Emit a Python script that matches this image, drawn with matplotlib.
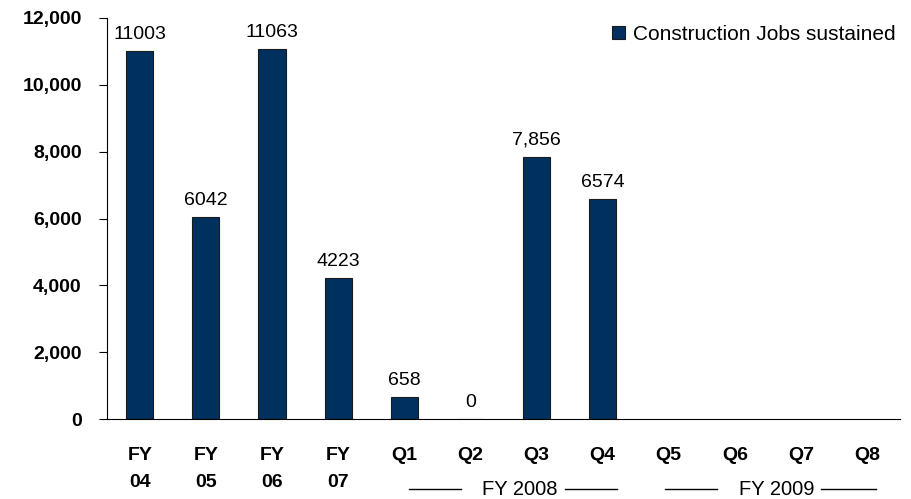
import numpy as np
import matplotlib
matplotlib.use("Agg")
from matplotlib import pyplot as plt

plt.rcParams['font.family'] = ['Liberation Sans', 'DejaVu Sans']

cats = ['FY\n04', 'FY\n05', 'FY\n06', 'FY\n07', 'Q1', 'Q2', 'Q3', 'Q4', 'Q5', 'Q6', 'Q7', 'Q8']
jobs = [11003, 6042, 11063, 4223, 658, 0, 7856, 6574]
labels = ['11003', '6042', '11063', '4223', '658', '0', '7,856', '6574']
groups = ['FY 2008', 'FY 2009']

fig = plt.figure(figsize=(9.12, 4.99), dpi=100)
ax = fig.add_axes([0.117, 0.160, 0.870, 0.804])

x = np.arange(len(cats))
ax.bar(x[:len(jobs)], jobs, width=0.41, color='#00305e', edgecolor='#1a1a1a',
       linewidth=0.8, label='Construction Jobs sustained', zorder=2)

for xi, v, s in zip(x, jobs, labels):
    ax.annotate(s, (xi, v), xytext=(0, 6), textcoords='offset points',
                ha='center', va='bottom', fontsize=14)

ax.set_xlim(-0.5, len(cats) - 0.5)
ax.set_ylim(0, 12000)
ax.set_yticks(np.arange(0, 12001, 2000))
ax.set_yticklabels([f'{t:,}' for t in range(0, 12001, 2000)], fontsize=14, fontweight='bold')
ax.set_xticks(x)
ax.set_xticklabels(cats, fontsize=14, fontweight='bold', linespacing=1.75)
ax.tick_params(axis='x', length=0, pad=20)
ax.tick_params(axis='y', direction='out', length=6, pad=12)

for s in ['top', 'right']:
    ax.spines[s].set_visible(False)

# year group labels under the quarters (text centre, left line, right line)
grp_pos = [(5.74, (4.07, 4.86), (6.43, 7.22)),
           (9.64, (7.95, 8.73), (10.31, 11.14))]
tr = ax.get_xaxis_transform()
y = -0.175
for g, (cx, l1, l2) in zip(groups, grp_pos):
    ax.text(cx, y, g, ha='center', va='center', fontsize=14.5, transform=tr)
    ax.plot(l1, [y, y], color='black', lw=1, transform=tr, clip_on=False)
    ax.plot(l2, [y, y], color='black', lw=1, transform=tr, clip_on=False)

ax.legend(loc='upper right', bbox_to_anchor=(1.018, 1.03), frameon=False, fontsize=15,
          handlelength=0.6, handleheight=0.6, handletextpad=0.4)

fig.savefig('out.png', dpi=100)
